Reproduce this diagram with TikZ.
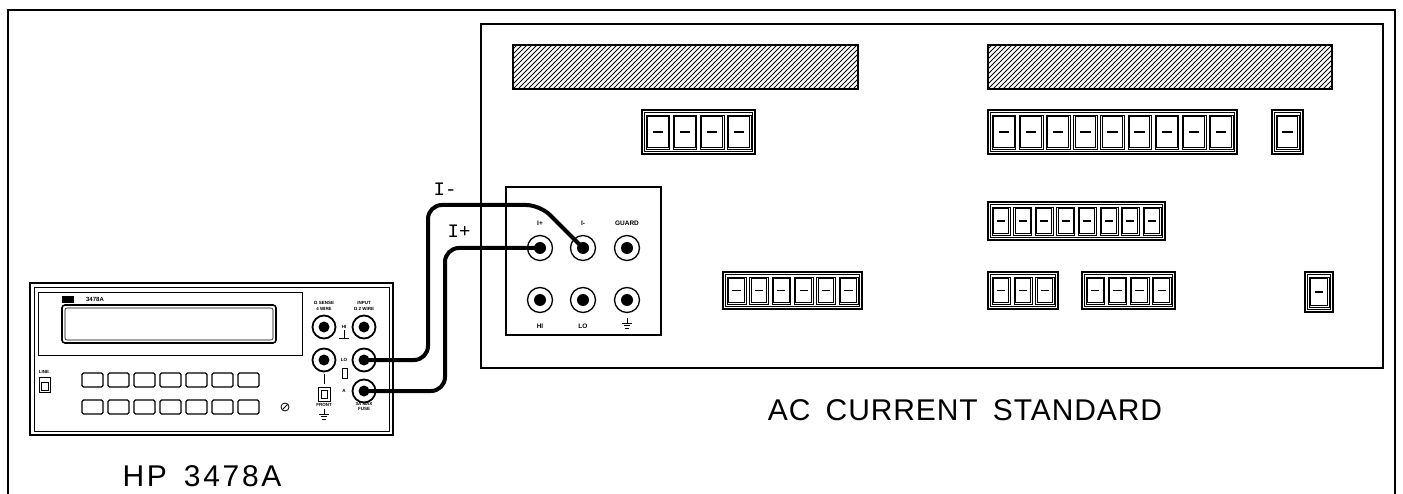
\documentclass[tikz,border=0pt]{standalone}
\usepackage{fontspec}
\setmainfont{Liberation Sans}
\newfontfamily\biglabelA[LetterSpace=3]{Liberation Sans}
\newfontfamily\biglabelB[LetterSpace=9]{Liberation Sans}
\newfontfamily\cablefont{Liberation Mono}
\newcommand\dgroup[5]{%
  \draw[grpline] (#1,#2) rectangle (#3,#4);
  \draw[grpinner] (#1+2.5,#2+2.5) rectangle (#3-2.5,#4-2.5);
  \pgfmathsetmacro\dgcw{(#3-#1-8-(#5-1)*3.5)/#5}
  \foreach \i in {1,...,#5}{
    \pgfmathsetmacro\dgl{#1+4+(\i-1)*(\dgcw+3.5)}
    \pgfmathsetmacro\dgr{\dgl+\dgcw}
    \pgfmathsetmacro\dgm{(\dgl+\dgr)/2}
    \draw[cellline] (\dgl,#2+5) rectangle (\dgr,#4-5);
    \draw[cellinner] (\dgl+1.6,#2+6.6) rectangle (\dgr-1.6,#4-6.6);
    \draw[line width=1.3pt] (\dgm-\dgcw*0.22,{(#2+#4)/2}) -- (\dgm+\dgcw*0.22,{(#2+#4)/2});
  }
}
\newcommand\hatchbar[4]{%
  \begin{scope}
    \clip (#1,#2) rectangle (#3,#4);
    \foreach \k in {0,...,80}{
      \pgfmathsetmacro\hx{#1-50+5*\k}
      \draw[line width=0.8pt] (\hx,#4) -- (\hx+#4-#2,#2);
    }
  \end{scope}
  \draw[line width=1.4pt] (#1,#2) rectangle (#3,#4);
}
\newcommand\gndsym[2]{%
  \draw[line width=0.8pt] (#1,#2) -- (#1,#2+5);
  \draw[line width=0.8pt] (#1-5,#2+5) -- (#1+5,#2+5);
  \draw[line width=0.8pt] (#1-3.3,#2+7.5) -- (#1+3.3,#2+7.5);
  \draw[line width=0.8pt] (#1-1.6,#2+10) -- (#1+1.6,#2+10);
}
\begin{document}
\begin{tikzpicture}[x=1pt,y=-1pt,
  frameline/.style={line width=1.3pt},
  grpline/.style={line width=1.1pt},
  grpinner/.style={line width=0.6pt},
  cellline/.style={line width=0.6pt},
  cellinner/.style={line width=1.0pt},
  cable/.style={line width=4pt,rounded corners=14pt},
  hpterm/.style={circle,draw,line width=1.8pt,minimum size=23pt,inner sep=0pt,
    path picture={\fill[black] (path picture bounding box.center) circle (5.5pt);}},
  acterm/.style={circle,draw,line width=1.3pt,minimum size=25pt,inner sep=0pt,
    path picture={\fill[black] (path picture bounding box.center) circle (6pt);}},
  tinylab/.style={font=\bfseries\fontsize{4.5}{4.5}\selectfont,inner sep=0pt},
  termlab/.style={font=\bfseries\fontsize{6.5}{6.5}\selectfont,inner sep=0pt},
  bigA/.style={font=\biglabelA\fontsize{30}{30}\selectfont,inner sep=0pt},
  bigB/.style={font=\biglabelB\fontsize{30}{30}\selectfont,inner sep=0pt},
  cablelab/.style={font=\cablefont\fontsize{19}{19}\selectfont,inner sep=0pt}]
\useasboundingbox (0,0) rectangle (1403,494);
\fill[white] (0,0) rectangle (1403,494);

% outer frame (open at the bottom)
\draw[frameline] (8,494) -- (8,10) -- (1395,10) -- (1395,494);

% ---------------- AC current standard ----------------
\draw[frameline] (481,24) rectangle (1383,368);
\hatchbar{513}{45}{858}{89}
\hatchbar{988}{45}{1332}{89}
\dgroup{642}{110}{755}{154}{4}
\dgroup{988}{110}{1237}{154}{9}
\dgroup{1272}{110}{1303}{154}{1}
\dgroup{988}{202}{1165}{240}{8}
\dgroup{723}{272}{862}{309}{6}
\dgroup{988}{272}{1058}{309}{3}
\dgroup{1082}{272}{1175}{309}{4}
\dgroup{1305}{272}{1333}{312}{1}

% terminal panel
\draw[line width=1.3pt] (506,187) rectangle (661,335);
\node[acterm] (acIp) at (540,248) {};
\node[acterm] (acIm) at (583,248) {};
\node[acterm] (acG)  at (627,248) {};
\node[acterm] (acHI) at (540,300) {};
\node[acterm] (acLO) at (583,300) {};
\node[acterm] (acGnd) at (627,300) {};
\node[termlab] (lIp) at (540,223) {I+};
\node[termlab] (lIm) at (583,223) {I-};
\node[termlab] (lG)  at (627,223) {GUARD};
\node[termlab] (lHI) at (540,326) {HI};
\node[termlab] (lLO) at (583,326) {LO};
\gndsym{627}{318}

\node[bigA] (acname) at (965,410) {AC\hspace{6pt} CURRENT\hspace{6pt} STANDARD};

% ---------------- HP 3478A ----------------
\draw[line width=1.5pt] (30,283) rectangle (393,435);
\draw[line width=0.7pt] (34,287) rectangle (389,431);
\draw[line width=1pt] (38,293) rectangle (302,355);
\draw[line width=1.6pt,rounded corners=3pt] (62,305) rectangle (276,343);
\draw[line width=0.6pt,rounded corners=2pt] (65,308) rectangle (273,340);
\fill (62,296) rectangle (74,303);
\node[font=\bfseries\fontsize{6}{6}\selectfont,inner sep=0pt] (logo) at (95,299.5) {3478A};
\foreach \i in {0,...,6}{
  \draw[line width=1.1pt,rounded corners=1.5pt] (82+26*\i,373) rectangle ++(21,14);
  \draw[line width=1.1pt,rounded corners=1.5pt] (82+26*\i,400) rectangle ++(21,14);
}
\node[tinylab] (linelab) at (44,372) {LINE};
\draw[line width=1pt] (39,377) rectangle (50,392);
\draw[line width=0.6pt] (41,382) rectangle (48,390);
\draw[line width=0.8pt] (285,407) circle (4);
\draw[line width=0.8pt] (282.5,409.5) -- (287.5,404.5);

\node[hpterm] (hpTL) at (324,327) {};
\node[hpterm] (hpTR) at (364,327) {};
\node[hpterm] (hpML) at (324,360) {};
\node[hpterm] (hpMR) at (364,360) {};
\node[hpterm] (hpBR) at (364,391) {};
\node[tinylab] (sa) at (324,303) {Ω SENSE};
\node[tinylab] (sb) at (324,309) {4 WIRE};
\node[tinylab] (ia) at (364,303) {INPUT};
\node[tinylab] (ib) at (364,309) {Ω 2 WIRE};
\node[tinylab] (fa) at (364,404) {3A MAX};
\node[tinylab] (fb) at (364,409) {FUSE};
\node[tinylab] (mhi) at (344,327) {HI};
\draw[line width=0.8pt] (344,330) -- (344,338);
\draw[line width=0.8pt] (339,338) -- (349,338);
\node[tinylab] (mlo) at (344,360) {LO};
\draw[line width=0.8pt] (342,368) rectangle (347,378);
\node[tinylab] (ma) at (344,391) {A};
\draw[line width=0.8pt] (324,374) -- (324,384);
\draw[line width=1pt] (318,387) rectangle (330,401);
\draw[line width=0.6pt] (321,390) rectangle (327,398);
\node[tinylab] (fr) at (324,405) {FRONT};
\gndsym{324}{409}

\node[bigB] (hpname) at (202,476) {HP\hspace{6pt} 3478A};

% ---------------- cables ----------------
\coordinate (aBot) at (428,360);
\coordinate (aTop) at (428,205);
\coordinate (aBend) at (540,205);
\coordinate (bBot) at (445,391);
\coordinate (bTop) at (445,248);
\draw[cable] (hpMR.center) -- (aBot) -- (aTop) -- (aBend) -- (acIm.center);
\draw[cable] (hpBR.center) -- (bBot) -- (bTop) -- (acIp.center);
\node[cablelab] (lblm) at (445,189) {I-};
\node[cablelab] (lblp) at (459,231) {I+};
\end{tikzpicture}
\end{document}
